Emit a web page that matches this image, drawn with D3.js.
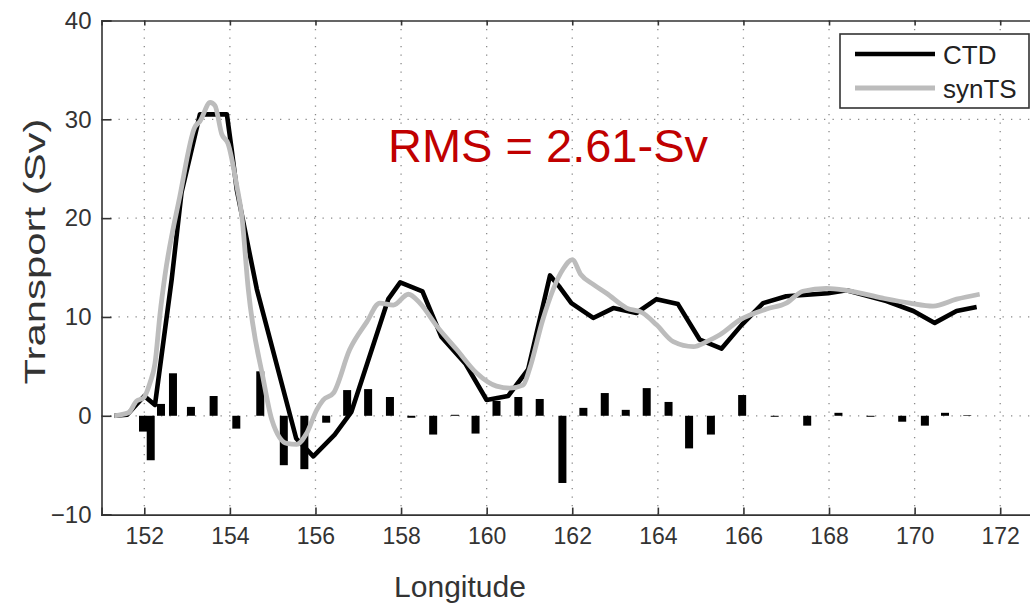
<!DOCTYPE html>
<html><head><meta charset="utf-8">
<script src="https://cdn.jsdelivr.net/npm/d3@7/dist/d3.min.js"></script>
<style>body{margin:0;background:#fff}svg{display:block}text{font-family:"Liberation Sans",Arial,sans-serif}</style>
</head><body><svg id="c" width="1030" height="606"></svg>
<script>
const ctdLon = [151.3,151.6,152.0,152.25,152.64,152.87,153.3,153.93,154.04,154.16,154.63,155.55,155.95,156.45,156.84,157.7,157.98,158.5,158.94,159.5,160.0,160.5,160.97,161.48,161.71,161.98,162.49,162.96,163.5,163.97,164.47,164.98,165.49,165.96,166.46,167.0,167.98,168.41,169.34,169.97,170.47,170.98,171.45];
const ctdVal = [0,0.1,2.0,1.1,13.8,22.6,30.5,30.5,27.0,22.9,12.8,-2.3,-4.1,-1.9,0.4,11.8,13.5,12.6,8.0,5.3,1.6,2.0,4.7,14.2,13.0,11.4,9.9,10.9,10.4,11.8,11.3,7.7,6.8,9.2,11.4,12.1,12.4,12.7,11.6,10.6,9.4,10.6,11.0];
const synLon = [151.3,151.63,151.82,151.98,152.13,152.25,152.37,152.48,152.83,153.18,153.3,153.54,153.65,153.81,153.96,154.16,154.28,154.43,154.78,154.98,155.33,155.56,155.79,156.03,156.18,156.42,156.8,157.2,157.5,157.82,158.17,158.44,158.83,159.3,159.77,160.23,160.54,160.85,161.0,161.31,161.78,162.0,162.2,162.49,162.8,163.27,163.65,163.97,164.36,164.83,165.14,165.45,165.92,166.54,167.0,167.39,167.94,168.41,169.26,169.89,170.43,170.98,171.52];
const synVal = [0,0.3,1.5,1.8,3.3,5.3,10.4,14.1,22.2,29.2,29.8,31.7,31.4,28.5,27.5,23.3,20.2,12.8,3.7,-0.4,-2.8,-2.9,-1.8,0.6,1.6,2.3,6.7,9.5,11.4,11.2,12.3,11.4,9.1,6.7,4.3,3.0,2.8,3.1,4.7,9.7,14.8,15.8,14.3,13.3,12.4,10.9,10.4,9.2,7.5,7.0,7.5,8.2,9.7,10.8,11.4,12.6,12.9,12.7,11.9,11.4,11.1,11.8,12.3];
const diffLon = [151.97,152.15,152.39,152.67,153.09,153.62,154.15,154.71,155.26,155.74,156.25,156.74,157.23,157.74,158.24,158.75,159.26,159.74,160.23,160.74,161.24,161.77,162.26,162.76,163.25,163.74,164.25,164.73,165.24,165.97,166.73,167.49,168.22,168.97,169.71,170.24,170.71,171.23];
const diffVal = [-1.6,-4.5,1.2,4.3,0.9,2.0,-1.3,4.5,-5.0,-5.4,-0.7,2.6,2.7,1.9,-0.2,-1.9,0.1,-1.8,1.5,1.9,1.7,-6.8,0.8,2.3,0.6,2.8,1.4,-3.3,-1.9,2.1,-0.1,-1.0,0.3,-0.1,-0.6,-1.0,0.3,0.05];
const xTicks = [152,154,156,158,160,162,164,166,168,170,172];
const yTicks = [-10,0,10,20,30,40];
const seriesNames = ["CTD","synTS"];
const rmsLabel = "RMS = 2.61-Sv";

const svg = d3.select("#c");
const x = d3.scaleLinear().domain([151,173]).range([101.5,1043]);
const y = d3.scaleLinear().domain([-10,40]).range([514.6,20.5]);
const axisCol = "#333";

// grid
const g = svg.append("g");
g.selectAll(".gx").data(xTicks).join("line")
  .attr("x1",d=>x(d)).attr("x2",d=>x(d)).attr("y1",y(40)).attr("y2",y(-10))
  .attr("stroke","#8a8a8a").attr("stroke-width",1.3).attr("stroke-dasharray","1.3,7.2");
g.selectAll(".gy").data(yTicks.filter(d=>d>-10&&d<40)).join("line")
  .attr("x1",x(151)).attr("x2",x(173)).attr("y1",d=>y(d)).attr("y2",d=>y(d))
  .attr("stroke","#8a8a8a").attr("stroke-width",1.3).attr("stroke-dasharray","1.3,7.2");

// bars
const bw = 8;
svg.append("g").selectAll("rect").data(diffLon.map((l,i)=>({l,v:diffVal[i]}))).join("rect")
  .attr("x",d=>x(d.l)-bw/2).attr("width",bw)
  .attr("y",d=>Math.min(y(d.v),y(0))).attr("height",d=>Math.max(0.6,Math.abs(y(d.v)-y(0))))
  .attr("fill","#000");

// lines
const line = d3.line().x(d=>x(d[0])).y(d=>y(d[1]));
svg.append("path").datum(ctdLon.map((l,i)=>[l,ctdVal[i]])).attr("d",line)
  .attr("fill","none").attr("stroke","#000").attr("stroke-width",4.6).attr("stroke-linejoin","round");
svg.append("path").datum(synLon.map((l,i)=>[l,synVal[i]])).attr("d",d3.line().x(d=>x(d[0])).y(d=>y(d[1])).curve(d3.curveMonotoneX))
  .attr("fill","none").attr("stroke","#bcbcbc").attr("stroke-width",4.8).attr("stroke-linejoin","round");

// axes
const xb = svg.append("g").attr("transform",`translate(0,${y(-10)})`)
  .call(d3.axisBottom(x).tickValues(xTicks).tickSize(-7).tickPadding(13).tickFormat(d3.format("d")));
const xt = svg.append("g").attr("transform",`translate(0,${y(40)})`)
  .call(d3.axisTop(x).tickValues(xTicks).tickSize(-5).tickFormat(""));
const yl = svg.append("g").attr("transform",`translate(${x(151)},0)`)
  .call(d3.axisLeft(y).tickValues(yTicks).tickSize(-10).tickPadding(10).tickFormat(d3.format("d")));
[xb,xt,yl].forEach(a=>{
  a.select(".domain").attr("stroke",axisCol).attr("stroke-width",1.6);
  a.selectAll(".tick line").attr("stroke",axisCol).attr("stroke-width",1.6);
  a.selectAll("text").attr("fill","#333").style("font-size","23px").style("font-family",'"Liberation Sans",Arial,sans-serif');
});
xb.selectAll("text").attr("dy","0.71em");
yl.selectAll("text").style("font-size","24px");

// axis labels
svg.append("text").attr("x",460).attr("y",597).attr("text-anchor","middle")
  .attr("fill","#333").style("font-size","30px").text("Longitude");
svg.append("text").attr("transform","translate(45,251.5) rotate(-90)").attr("text-anchor","middle")
  .attr("fill","#333").style("font-size","30px").attr("textLength",266).attr("lengthAdjust","spacingAndGlyphs").text("Transport (Sv)");

// RMS
svg.append("text").attr("x",388).attr("y",162).attr("fill","#c00000").style("font-size","47px").text(rmsLabel);

// legend
const lg = svg.append("g");
lg.append("rect").attr("x",840).attr("y",34).attr("width",189).attr("height",74)
  .attr("fill","#fff").attr("stroke","#333").attr("stroke-width",1.6);
const lcol = ["#000","#bcbcbc"];
seriesNames.forEach((n,i)=>{
  const yy = 54 + i*34;
  lg.append("line").attr("x1",855).attr("x2",935).attr("y1",yy).attr("y2",yy)
    .attr("stroke",lcol[i]).attr("stroke-width",i?5:4.5);
  lg.append("text").attr("x",943).attr("y",yy+10).attr("fill","#222").style("font-size","26px").text(n);
});
</script></body></html>
